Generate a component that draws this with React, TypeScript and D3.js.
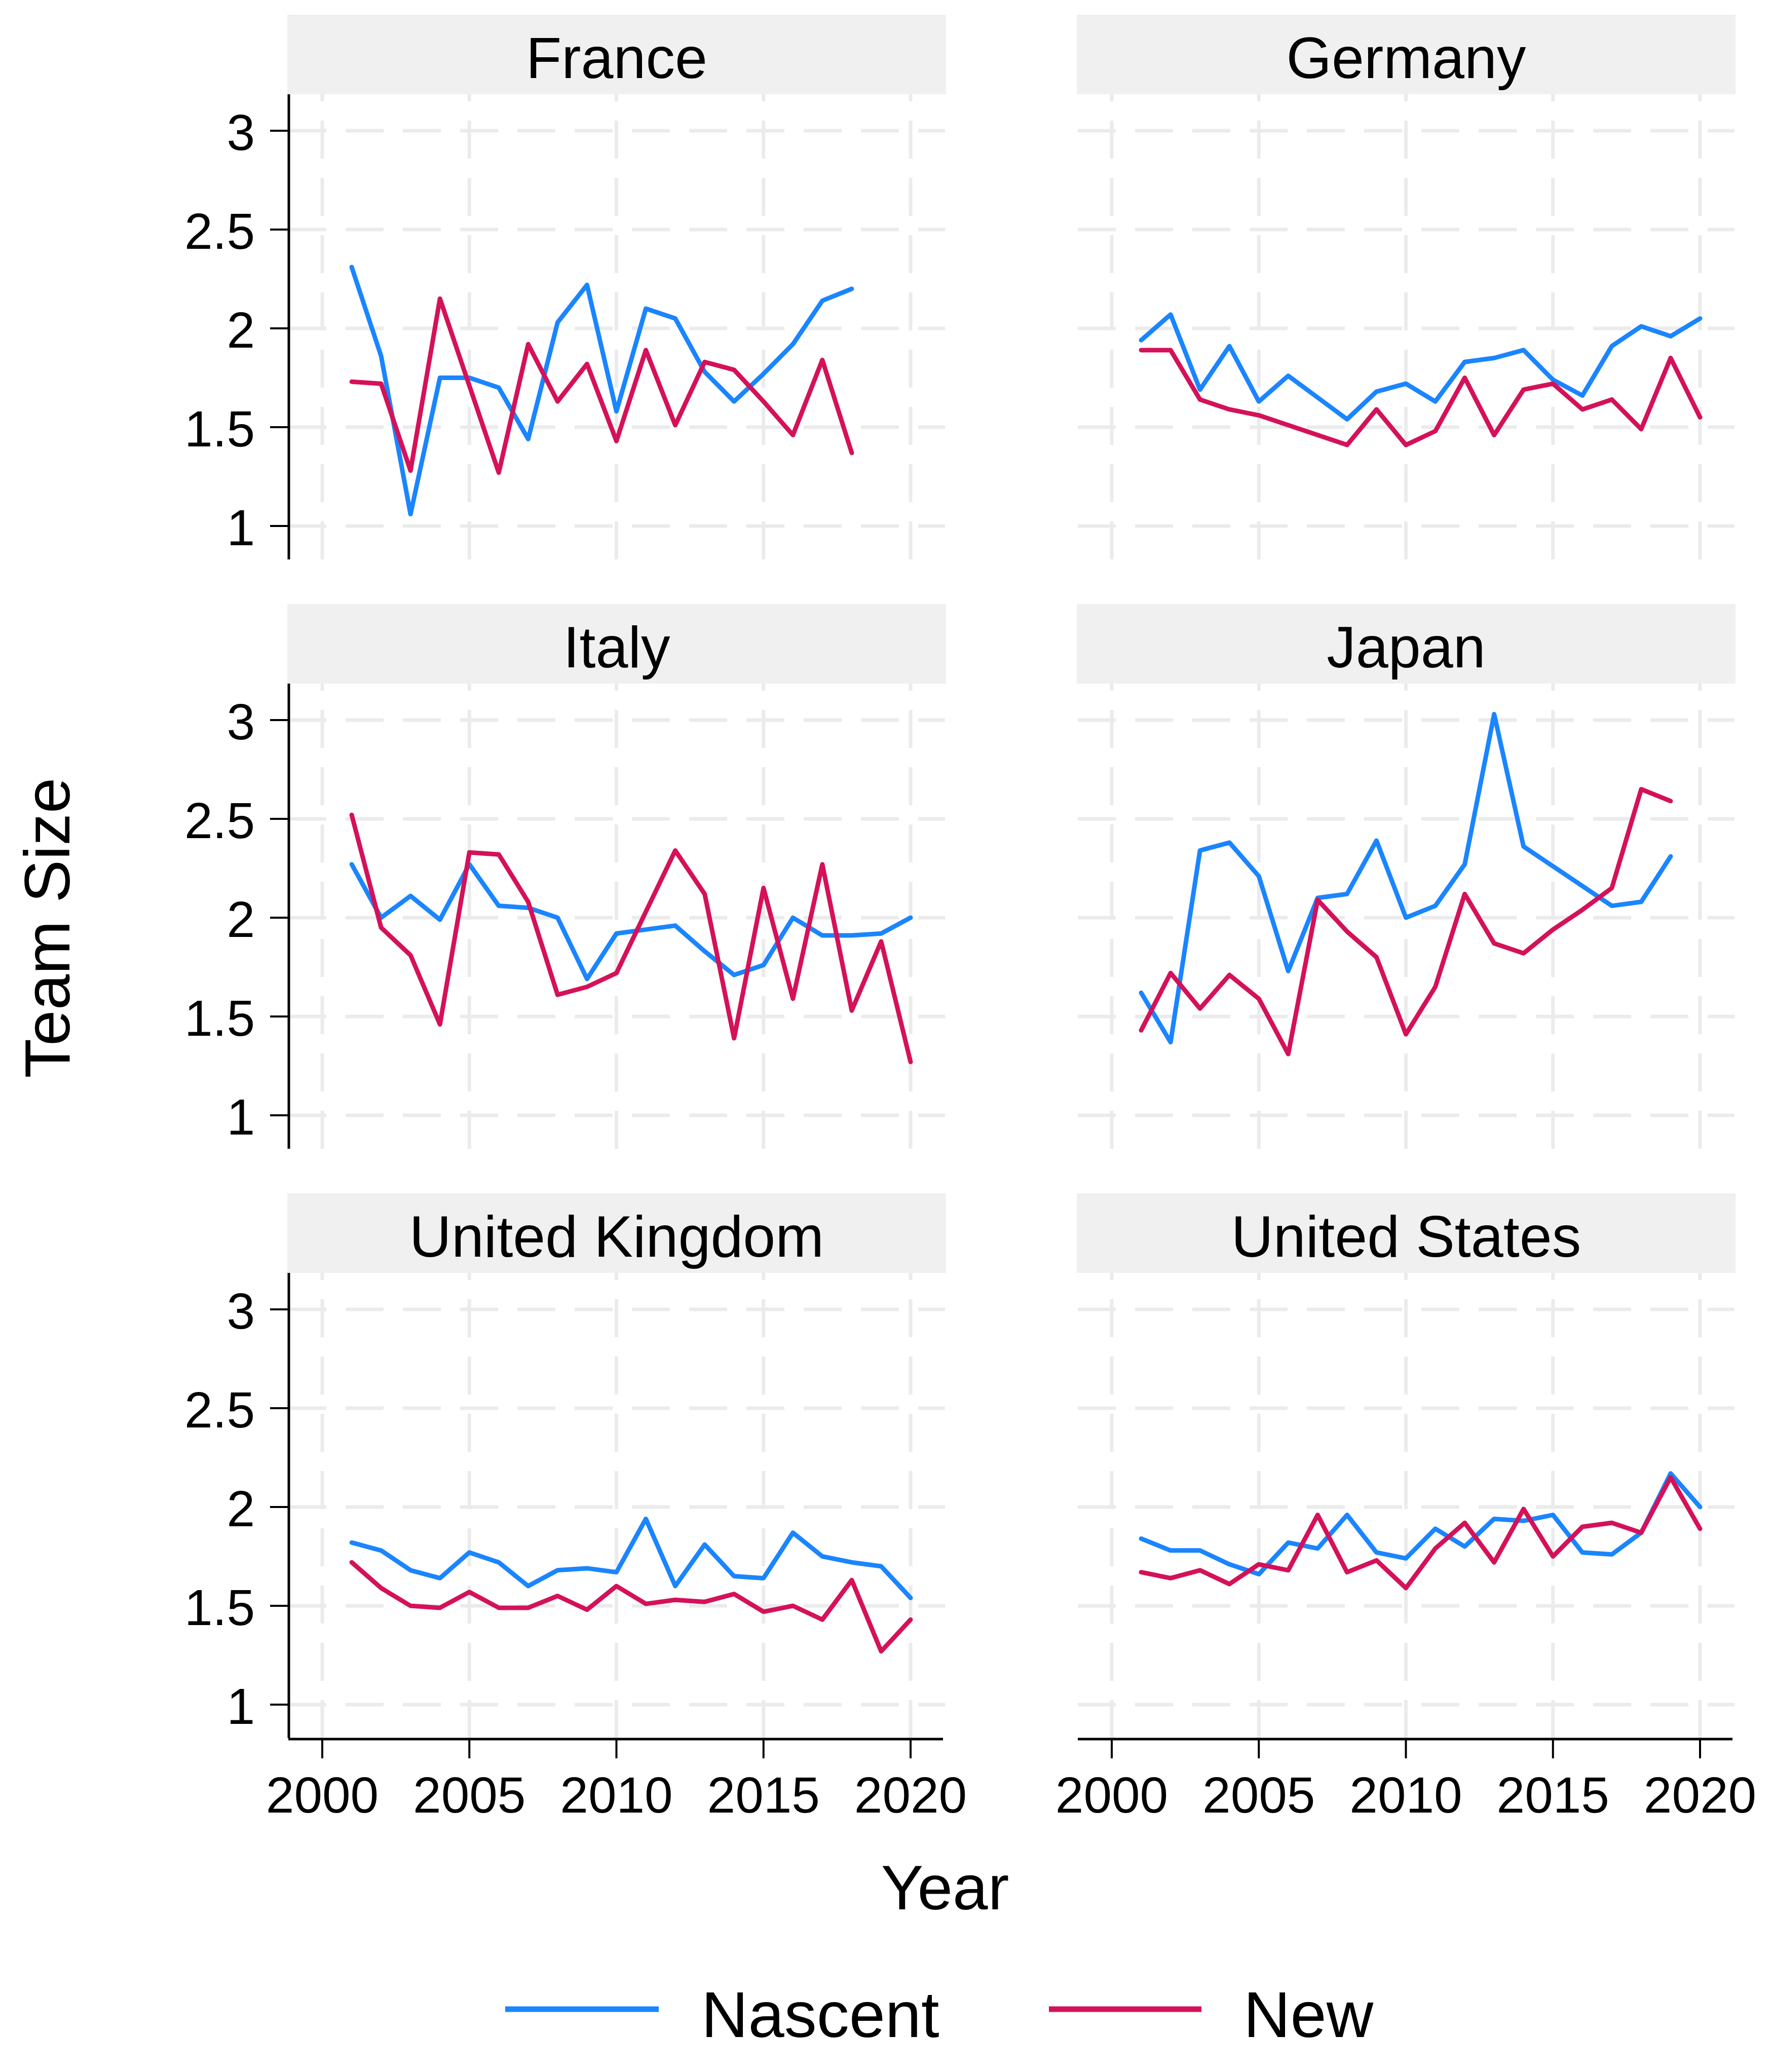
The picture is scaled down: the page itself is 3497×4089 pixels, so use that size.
import * as d3 from 'd3';

// Values (team size by year)
const years = [2001, 2002, 2003, 2004, 2005, 2006, 2007, 2008, 2009, 2010, 2011, 2012, 2013, 2014, 2015, 2016, 2017, 2018, 2019, 2020];
const countries = ['France', 'Germany', 'Italy', 'Japan', 'United Kingdom', 'United States'];
const seriesNames = ['Nascent', 'New'];
const yTicks = [1, 1.5, 2, 2.5, 3];
const xTicks = [2000, 2005, 2010, 2015, 2020];

const franceNascent = [2.31, 1.86, 1.06, 1.75, 1.75, 1.70, 1.44, 2.03, 2.22, 1.58, 2.10, 2.05, 1.78, 1.63, 1.77, 1.92, 2.14, 2.20, null, null];
const franceNew = [1.73, 1.72, 1.28, 2.15, 1.71, 1.27, 1.92, 1.63, 1.82, 1.43, 1.89, 1.51, 1.83, 1.79, 1.63, 1.46, 1.84, 1.37, null, null];
const germanyNascent = [1.94, 2.07, 1.69, 1.91, 1.63, 1.76, 1.65, 1.54, 1.68, 1.72, 1.63, 1.83, 1.85, 1.89, 1.74, 1.66, 1.91, 2.01, 1.96, 2.05];
const germanyNew = [1.89, 1.89, 1.64, 1.59, 1.56, 1.51, 1.46, 1.41, 1.59, 1.41, 1.48, 1.75, 1.46, 1.69, 1.72, 1.59, 1.64, 1.49, 1.85, 1.55];
const italyNascent = [2.27, 2.00, 2.11, 1.99, 2.27, 2.06, 2.05, 2.00, 1.69, 1.92, 1.94, 1.96, 1.83, 1.71, 1.76, 2.00, 1.91, 1.91, 1.92, 2.00];
const italyNew = [2.52, 1.95, 1.81, 1.46, 2.33, 2.32, 2.08, 1.61, 1.65, 1.72, 2.03, 2.34, 2.12, 1.39, 2.15, 1.59, 2.27, 1.53, 1.88, 1.27];
const japanNascent = [1.62, 1.37, 2.34, 2.38, 2.21, 1.73, 2.10, 2.12, 2.39, 2.00, 2.06, 2.27, 3.03, 2.36, 2.26, 2.16, 2.06, 2.08, 2.31, null];
const japanNew = [1.43, 1.72, 1.54, 1.71, 1.59, 1.31, 2.09, 1.93, 1.80, 1.41, 1.65, 2.12, 1.87, 1.82, 1.94, 2.04, 2.15, 2.65, 2.59, null];
const ukNascent = [1.82, 1.78, 1.68, 1.64, 1.77, 1.72, 1.60, 1.68, 1.69, 1.67, 1.94, 1.60, 1.81, 1.65, 1.64, 1.87, 1.75, 1.72, 1.70, 1.54];
const ukNew = [1.72, 1.59, 1.50, 1.49, 1.57, 1.49, 1.49, 1.55, 1.48, 1.60, 1.51, 1.53, 1.52, 1.56, 1.47, 1.50, 1.43, 1.63, 1.27, 1.43];
const usNascent = [1.84, 1.78, 1.78, 1.71, 1.66, 1.82, 1.79, 1.96, 1.77, 1.74, 1.89, 1.80, 1.94, 1.93, 1.96, 1.77, 1.76, 1.87, 2.17, 2.00];
const usNew = [1.67, 1.64, 1.68, 1.61, 1.71, 1.68, 1.96, 1.67, 1.73, 1.59, 1.79, 1.92, 1.72, 1.99, 1.75, 1.90, 1.92, 1.87, 2.15, 1.89];

const nascentByCountry = [franceNascent, germanyNascent, italyNascent, japanNascent, ukNascent, usNascent];
const newByCountry = [franceNew, germanyNew, italyNew, japanNew, ukNew, usNew];

const COLORS = ['#1A85FF', '#D41159'];
const FONT = '"Liberation Sans", Arial, Helvetica, sans-serif';

const W = 3497;
const H = 4089;
const colLeft = [569, 2127];
const panelW = 1296;
const rowTop = [29, 1192, 2355];
const stripH = 157;
const plotH = 918;
const gridColor = '#ebebeb';

function Panel({ idx }: { idx: number }) {
    const col = idx % 2;
    const row = Math.floor(idx / 2);
    const left = colLeft[col];
    const right = left + panelW;
    const top = rowTop[row] + stripH;
    const bottom = top + plotH;

    const x = d3.scaleLinear().domain([2000, 2020]).range([left + 67, left + 1228]);
    const y = d3.scaleLinear().domain([1, 3]).range([top + 852, top + 72]);

    const line = d3.line<number | null>()
        .defined(d => d != null)
        .x((_, i) => x(years[i]))
        .y(d => y(d as number));

    const series = [nascentByCountry[idx], newByCountry[idx]];
    const showY = col === 0;
    const showX = row === 2;

    return (
        <g>
            {/* strip */}
            <rect x={left - 2} y={rowTop[row]} width={panelW + 4} height={stripH} fill="#f0f0f0" />
            <text x={(left + right) / 2} y={rowTop[row] + 125} textAnchor="middle"
                fontSize={115} fontFamily={FONT} fill="#000">{countries[idx]}</text>

            {/* grid */}
            {yTicks.map(t => (
                <line key={'h' + t} x1={left} x2={right} y1={y(t)} y2={y(t)}
                    stroke={gridColor} strokeWidth={7} strokeDasharray="75 38" />
            ))}
            {xTicks.map(t => (
                <line key={'v' + t} x1={x(t)} x2={x(t)} y1={bottom} y2={top}
                    stroke={gridColor} strokeWidth={7} strokeDasharray="75 38" />
            ))}

            {/* series */}
            {series.map((s, i) => (
                <path key={seriesNames[i]} d={line(s) || ''} fill="none" stroke={COLORS[i]}
                    strokeWidth={9} strokeLinejoin="round" strokeLinecap="round" />
            ))}

            {/* y axis */}
            {showY && (
                <g>
                    <line x1={left + 1} x2={left + 1} y1={top} y2={bottom} stroke="#000" strokeWidth={5} />
                    {yTicks.map(t => (
                        <g key={'yt' + t}>
                            <line x1={left - 36} x2={left + 1} y1={y(t)} y2={y(t)} stroke="#000" strokeWidth={4} />
                            <text x={left - 66} y={y(t) + 38} textAnchor="end" fontSize={100}
                                fontFamily={FONT} fill="#000">{d3.format('~g')(t)}</text>
                        </g>
                    ))}
                </g>
            )}

            {/* x axis */}
            {showX && (
                <g>
                    <line x1={left} x2={right - 4} y1={bottom + 2} y2={bottom + 2} stroke="#000" strokeWidth={5} />
                    {xTicks.map(t => (
                        <g key={'xt' + t}>
                            <line x1={x(t)} x2={x(t)} y1={bottom + 2} y2={bottom + 40} stroke="#000" strokeWidth={4} />
                            <text x={x(t)} y={bottom + 147} textAnchor="middle" fontSize={100}
                                fontFamily={FONT} fill="#000">{t}</text>
                        </g>
                    ))}
                </g>
            )}
        </g>
    );
}

export default function App() {
    const legendItems = [
        { x1: 997, x2: 1300, tx: 1384 },
        { x1: 2070, x2: 2371, tx: 2454 },
    ];
    return (
        <svg width={W} height={H} viewBox={`0 0 ${W} ${H}`}
            style={{ position: 'absolute', left: 0, top: 0, background: '#fff' }}>
            <rect x={0} y={0} width={W} height={H} fill="#fff" />
            {countries.map((c, i) => <Panel key={c} idx={i} />)}

            {/* axis titles */}
            <text x={1865} y={3768} textAnchor="middle" fontSize={125} fontFamily={FONT} fill="#000">Year</text>
            <text transform="translate(137,1831) rotate(-90)" textAnchor="middle" fontSize={127}
                fontFamily={FONT} fill="#000">Team Size</text>

            {/* legend */}
            {legendItems.map((l, i) => (
                <g key={seriesNames[i]}>
                    <line x1={l.x1} x2={l.x2} y1={3965} y2={3965} stroke={COLORS[i]} strokeWidth={11} />
                    <text x={l.tx} y={4020} fontSize={128} fontFamily={FONT} fill="#000">{seriesNames[i]}</text>
                </g>
            ))}
        </svg>
    );
}
